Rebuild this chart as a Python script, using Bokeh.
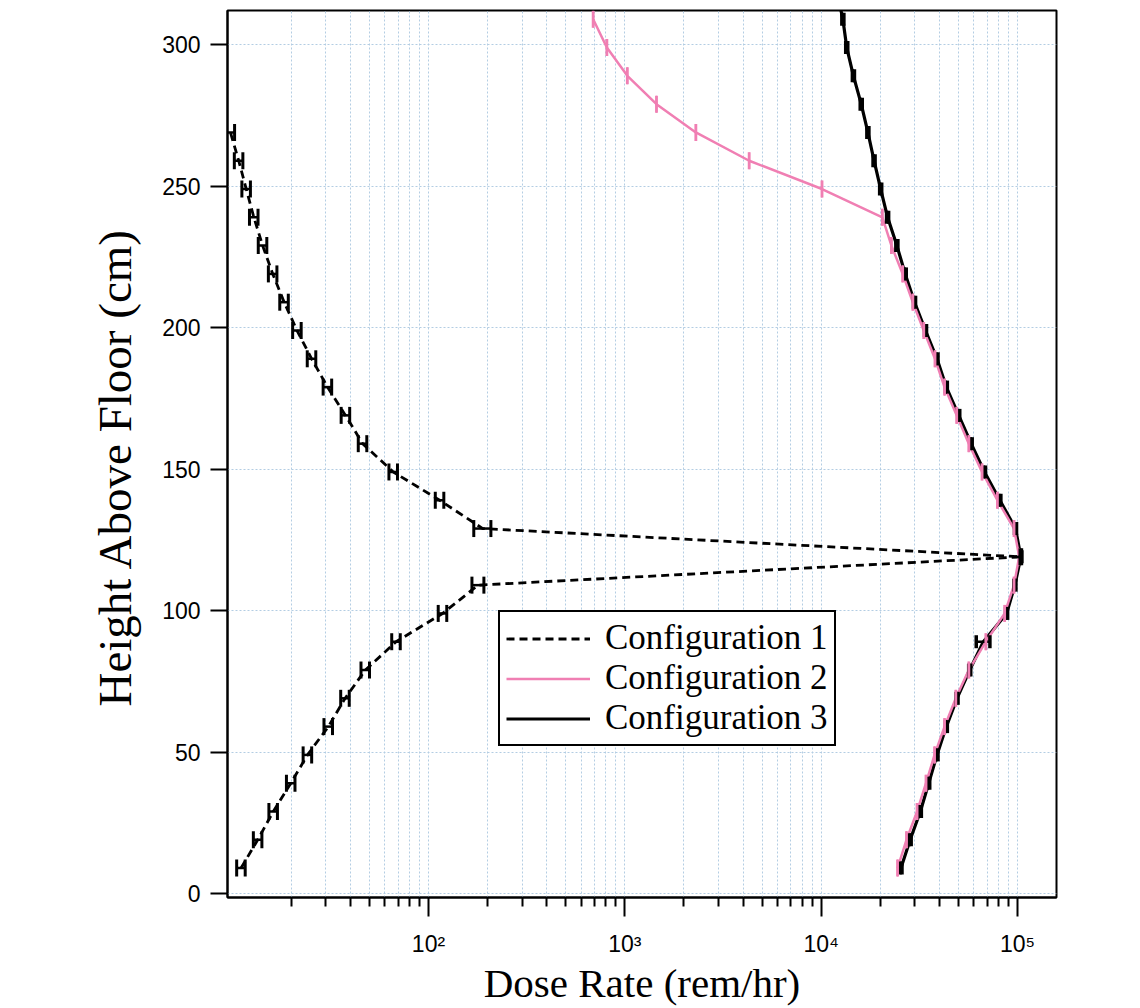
import math
from bokeh.plotting import figure
from bokeh.models import (FixedTicker, CustomJSTickFormatter, Legend, LegendItem,
                          ColumnDataSource, Title)
from bokeh.embed import file_html
from bokeh.resources import INLINE

# ---------------- data ----------------
heights1 = [9, 19, 29, 39, 49, 59, 69, 79, 89, 99, 109, 119, 129, 139, 149, 159, 169,
            179, 189, 199, 209, 219, 229, 239, 249, 259, 269]
config1 = [11.1, 13.5, 16.2, 19.9, 24.2, 30.9, 37.6, 47.7, 68.4, 118, 179, 1.04e5, 189,
           114, 66.2, 46.2, 37.8, 30.6, 25.4, 21.4, 18.4, 16.1, 14.3, 12.9, 11.8, 10.8, 9.8]
config1_err = [0.05, 0.05, 0.05, 0.05, 0.05, 0.05, 0.05, 0.05, 0.05, 0.05, 0.07, 0.01, 0.10,
               0.05, 0.05, 0.05, 0.05, 0.05, 0.05, 0.05, 0.05, 0.05, 0.05, 0.05, 0.05, 0.05, 0.05]

heights2 = [9, 19, 29, 39, 49, 59, 69, 79, 89, 99, 109, 119, 129, 139, 149, 159, 169, 179,
            189, 199, 209, 219, 229, 239, 249, 259, 269, 279, 289, 299, 309]
config2 = [2.45e4, 2.72e4, 3.08e4, 3.42e4, 3.78e4, 4.25e4, 4.85e4, 5.65e4, 6.9e4, 8.6e4,
           9.6e4, 1.02e5, 9.6e4, 7.9e4, 6.6e4, 5.65e4, 4.9e4, 4.25e4, 3.8e4, 3.33e4, 2.93e4,
           2.6e4, 2.28e4, 2.05e4, 1.01e4, 4300, 2300, 1450, 1030, 810, 690]

heights3 = [9, 19, 29, 39, 49, 59, 69, 79, 89, 99, 109, 119, 129, 139, 149, 159, 169, 179,
            189, 199, 209, 219, 229, 239, 249, 259, 269, 279, 289, 299, 309, 319]
config3 = [2.55e4, 2.84e4, 3.2e4, 3.53e4, 3.89e4, 4.34e4, 4.92e4, 5.71e4, 6.7e4, 8.8e4,
           9.7e4, 1.04e5, 9.77e4, 8.13e4, 6.79e4, 5.81e4, 5.02e4, 4.34e4, 3.89e4, 3.40e4,
           2.99e4, 2.68e4, 2.43e4, 2.18e4, 2.01e4, 1.86e4, 1.73e4, 1.6e4, 1.46e4, 1.35e4,
           1.29e4, 1.2e4]
config3_err = [0.012] * 8 + [0.08] + [0.012] * 23

y_ticks = [0, 50, 100, 150, 200, 250, 300]
x_major = [1e2, 1e3, 1e4, 1e5]
x_minor = [m * d for d in (10, 100, 1000, 10000) for m in range(2, 10)]

labels = ["Configuration 1", "Configuration 2", "Configuration 3"]
x_title = "Dose Rate (rem/hr)"
y_title = "Height Above Floor (cm)"

PINK = "#f07fb3"
GRID = "#b3cde3"

# ---------------- figure ----------------
p = figure(width=1140, height=1008, x_axis_type="log",
           x_range=(9.47, 1.58e5), y_range=(-1.4, 312.1),
           output_backend="svg", toolbar_location=None,
           min_border_left=227, min_border_top=10, min_border_right=84, min_border_bottom=110)
p.background_fill_color = "white"
p.border_fill_color = "white"
p.outline_line_color = "black"
p.outline_line_width = 2
p.outline_line_alpha = 1

# grid
for g in (p.xgrid, p.ygrid):
    g.grid_line_color = GRID
    g.grid_line_dash = "2 2"
    g.grid_line_width = 1
p.xgrid.minor_grid_line_color = GRID
p.xgrid.minor_grid_line_dash = "2 2"
p.xgrid.minor_grid_line_width = 1

# axes
p.xaxis.ticker = FixedTicker(ticks=x_major, minor_ticks=x_minor)
p.yaxis.ticker = FixedTicker(ticks=y_ticks)
p.xaxis.formatter = CustomJSTickFormatter(code="""
const e = Math.round(Math.log10(tick));
const sup = {1:"\u00b9", 2:"\u00b2", 3:"\u00b3", 4:"\u2074", 5:"\u2075"};
return "10" + sup[e];
""")
for ax in (p.xaxis[0], p.yaxis[0]):
    ax.axis_line_color = "black"
    ax.axis_line_width = 2
    ax.major_tick_line_color = "black"
    ax.major_tick_line_width = 2
    ax.major_tick_in = 0
    ax.minor_tick_in = 0
    ax.major_label_text_font = "Liberation Sans"
    ax.major_label_text_font_size = "23px"
    ax.major_label_text_color = "black"
p.xaxis.major_tick_out = 19
p.xaxis.minor_tick_out = 9
p.xaxis.minor_tick_line_color = "black"
p.xaxis.minor_tick_line_width = 2
p.xaxis.major_label_standoff = 14
p.xaxis.axis_label = x_title
p.xaxis.axis_label_text_font = "Liberation Serif"
p.xaxis.axis_label_text_font_style = "normal"
p.xaxis.axis_label_text_font_size = "41px"
p.xaxis.axis_label_text_color = "black"
p.xaxis.axis_label_standoff = 0
p.yaxis.major_tick_out = 17
p.yaxis.minor_tick_out = 0
p.yaxis.minor_tick_line_color = None
p.yaxis.major_label_standoff = 10

# y-axis title as a side title, shifted a little below the frame centre as in the original
ytitle = Title(text=y_title, align="left", offset=191, standoff=38,
               text_font="Liberation Serif", text_font_style="normal",
               text_font_size="47px", text_color="black")
p.add_layout(ytitle, "left")

# ---------------- series ----------------
def errbars(xs, ys, rel, color, width, cap, cap_w):
    lo = [x * (1 - r) for x, r in zip(xs, rel)]
    hi = [x * (1 + r) for x, r in zip(xs, rel)]
    src = ColumnDataSource(dict(lo=lo, hi=hi, y=ys))
    p.segment(x0="lo", y0="y", x1="hi", y1="y", source=src, line_color=color, line_width=width)
    p.scatter(x="lo", y="y", source=src, marker="dash", angle=math.pi / 2, size=cap,
              line_color=color, line_width=cap_w)
    p.scatter(x="hi", y="y", source=src, marker="dash", angle=math.pi / 2, size=cap,
              line_color=color, line_width=cap_w)

l3 = p.line(config3, heights3, line_color="black", line_width=3.2)
l2 = p.line(config2, heights2, line_color=PINK, line_width=2.5)
errbars(config3, heights3, config3_err, "black", 2.5, 13, 3.5)
errbars(config2, heights2, [0.005] * len(config2), PINK, 2, 17, 2)
l1 = p.line(config1, heights1, line_color="black", line_width=2.8, line_dash="8 5")
errbars(config1, heights1, config1_err, "black", 2.5, 17, 3)

legend = Legend(items=[LegendItem(label=labels[0], renderers=[l1]),
                       LegendItem(label=labels[1], renderers=[l2]),
                       LegendItem(label=labels[2], renderers=[l3])],
                location=(271, 151))
legend.label_text_font = "Liberation Serif"
legend.label_text_font_size = "35px"
legend.label_text_color = "black"
legend.label_height = 39
legend.glyph_height = 39
legend.glyph_width = 84
legend.label_standoff = 15
legend.padding = 6
legend.spacing = 0
legend.margin = 0
legend.border_line_color = "black"
legend.border_line_width = 2
legend.border_line_alpha = 1
legend.background_fill_color = "white"
legend.background_fill_alpha = 1
p.add_layout(legend, "center")

open("out.html", "w").write(file_html(p, INLINE))
